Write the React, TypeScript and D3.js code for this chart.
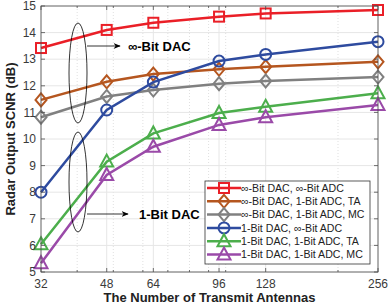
import * as d3 from "d3";
import React from "react";

const antennas = [32, 48, 64, 96, 128, 256];
const xTicks = [32, 48, 64, 96, 128, 256];
const xMinor = [40, 50, 60, 70, 80, 90, 100, 200];
const yTicks = [5, 6, 7, 8, 9, 10, 11, 12, 13, 14, 15];

const seriesNames = [
  "∞-Bit DAC, ∞-Bit ADC",
  "∞-Bit DAC, 1-Bit ADC, TA",
  "∞-Bit DAC, 1-Bit ADC, MC",
  "1-Bit DAC, ∞-Bit ADC",
  "1-Bit DAC, 1-Bit ADC, TA",
  "1-Bit DAC, 1-Bit ADC, MC",
];
const idealIdeal = [13.42, 14.1, 14.37, 14.6, 14.72, 14.85];
const idealTA = [11.47, 12.15, 12.44, 12.62, 12.72, 12.9];
const idealMC = [10.82, 11.6, 11.84, 12.08, 12.18, 12.33];
const oneBitIdeal = [8.0, 11.09, 12.14, 12.93, 13.18, 13.66];
const oneBitTA = [6.04, 9.15, 10.21, 10.98, 11.21, 11.72];
const oneBitMC = [5.33, 8.65, 9.71, 10.53, 10.82, 11.28];

const seriesValues = [idealIdeal, idealTA, idealMC, oneBitIdeal, oneBitTA, oneBitMC];
const colors = ["#ea1f27", "#b5561f", "#808080", "#2e4b9f", "#4cae4c", "#9a4aa8"];
const markers = ["square", "diamond", "diamond", "circle", "triangle", "triangle"];

const W = 390;
const H = 308;
const m = { left: 41, right: 12, top: 6, bottom: 36 };
const font = "'Liberation Sans', Arial, sans-serif";

function Marker({ kind, x, y, color }: { kind: string; x: number; y: number; color: string }) {
  const s = 5;
  const common = { fill: "none", stroke: color, strokeWidth: 2 };
  if (kind === "square") return <rect x={x - s} y={y - s} width={2 * s} height={2 * s} {...common} />;
  if (kind === "circle") return <circle cx={x} cy={y} r={s + 0.5} {...common} />;
  if (kind === "diamond")
    return <path d={`M${x},${y - 6.5}L${x + 5.5},${y}L${x},${y + 6.5}L${x - 5.5},${y}Z`} {...common} />;
  return <path d={`M${x},${y - 7}L${x + 6.5},${y + 5}L${x - 6.5},${y + 5}Z`} {...common} />;
}

export default function App() {
  const x = d3.scaleLog().base(2).domain([32, 256]).range([m.left, W - m.right]);
  const y = d3.scaleLinear().domain([5, 15]).range([H - m.bottom, m.top]);
  const line = d3
    .line<number>()
    .x((_, i) => x(antennas[i]))
    .y((d) => y(d));

  const x0 = x(32);
  const x1 = x(256);
  const y0 = y(5);
  const y1 = y(15);

  const ellCx = 78;
  const legX = 205;
  const legY = 181;
  const rowH = 13.3;

  return (
    <svg width={W} height={H} style={{ position: "absolute", left: 0, top: 0, fontFamily: font }}>
      <defs>
        <marker id="arr" viewBox="0 0 10 10" refX="9" refY="5" markerWidth="9" markerHeight="9" orient="auto">
          <path d="M0,1L10,5L0,9L3,5Z" fill="#000" />
        </marker>
      </defs>
      <rect x={0} y={0} width={W} height={H} fill="#fff" />
      {/* grid */}
      {xMinor.map((t) => (
        <line key={"mx" + t} x1={x(t)} x2={x(t)} y1={y1} y2={y0} stroke="#d8d8d8" strokeWidth={0.8} strokeDasharray="1,2" />
      ))}
      {xTicks.map((t) => (
        <line key={"gx" + t} x1={x(t)} x2={x(t)} y1={y1} y2={y0} stroke="#e6e6e6" strokeWidth={1} />
      ))}
      {yTicks.map((t) => (
        <line key={"gy" + t} x1={x0} x2={x1} y1={y(t)} y2={y(t)} stroke="#e6e6e6" strokeWidth={1} />
      ))}
      {/* series */}
      {seriesValues.map((vals, si) => (
        <g key={si}>
          <path d={line(vals) || ""} fill="none" stroke={colors[si]} strokeWidth={2.5} />
          {vals.map((v, i) => (
            <Marker key={i} kind={markers[si]} x={x(antennas[i])} y={y(v)} color={colors[si]} />
          ))}
        </g>
      ))}
      {/* axes box */}
      <rect x={x0} y={y1} width={x1 - x0} height={y0 - y1} fill="none" stroke="#4d4d4d" strokeWidth={0.8} />
      {yTicks.map((t) => (
        <g key={"ty" + t}>
          <line x1={x0} x2={x0 + 4} y1={y(t)} y2={y(t)} stroke="#4d4d4d" strokeWidth={0.8} />
          <line x1={x1} x2={x1 - 4} y1={y(t)} y2={y(t)} stroke="#4d4d4d" strokeWidth={0.8} />
          <text x={x0 - 5} y={y(t)} dy="0.35em" textAnchor="end" fontSize={12} fill="#3a3a3a">
            {t}
          </text>
        </g>
      ))}
      {xTicks.map((t) => (
        <g key={"tx" + t}>
          <line x1={x(t)} x2={x(t)} y1={y0} y2={y0 - 4} stroke="#4d4d4d" strokeWidth={0.8} />
          <line x1={x(t)} x2={x(t)} y1={y1} y2={y1 + 4} stroke="#4d4d4d" strokeWidth={0.8} />
          <text x={x(t)} y={y0 + 16} textAnchor="middle" fontSize={12} fill="#3a3a3a">
            {t}
          </text>
        </g>
      ))}
      {xMinor.map((t) => (
        <g key={"mt" + t}>
          <line x1={x(t)} x2={x(t)} y1={y0} y2={y0 - 2} stroke="#4d4d4d" strokeWidth={0.8} />
          <line x1={x(t)} x2={x(t)} y1={y1} y2={y1 + 2} stroke="#4d4d4d" strokeWidth={0.8} />
        </g>
      ))}
      <text x={(x0 + x1) / 2} y={H - 6} textAnchor="middle" fontSize={13} fontWeight="bold" fill="#222">
        The Number of Transmit Antennas
      </text>
      <text
        transform={`translate(15,${(y0 + y1) / 2}) rotate(-90)`}
        textAnchor="middle"
        fontSize={13}
        fontWeight="bold"
        fill="#222"
      >
        Radar Output SCNR (dB)
      </text>
      {/* annotations */}
      <ellipse cx={ellCx} cy={73} rx={9} ry={50} fill="none" stroke="#000" strokeWidth={0.8} />
      <line x1={ellCx + 9} y1={46} x2={120} y2={46} stroke="#000" strokeWidth={0.8} markerEnd="url(#arr)" />
      <text x={128} y={46} dy="0.35em" fontSize={13} fontWeight="bold" fill="#000">
        ∞-Bit DAC
      </text>
      <ellipse cx={ellCx} cy={182} rx={9} ry={50} fill="none" stroke="#000" strokeWidth={0.8} />
      <line x1={ellCx + 9} y1={214} x2={128} y2={214} stroke="#000" strokeWidth={0.8} markerEnd="url(#arr)" />
      <text x={139} y={214} dy="0.35em" fontSize={13} fontWeight="bold" fill="#000">
        1-Bit DAC
      </text>
      {/* legend */}
      <rect x={legX} y={legY} width={165} height={83} fill="#fff" stroke="#333" strokeWidth={0.8} />
      {seriesNames.map((name, i) => {
        const ly = legY + 7 + i * rowH;
        return (
          <g key={name}>
            <line x1={legX + 2} x2={legX + 36} y1={ly} y2={ly} stroke={colors[i]} strokeWidth={2.5} />
            <Marker kind={markers[i]} x={legX + 19} y={ly} color={colors[i]} />
            <text x={legX + 36} y={ly} dy="0.35em" fontSize={10.6} fill="#222">
              {name}
            </text>
          </g>
        );
      })}
    </svg>
  );
}
